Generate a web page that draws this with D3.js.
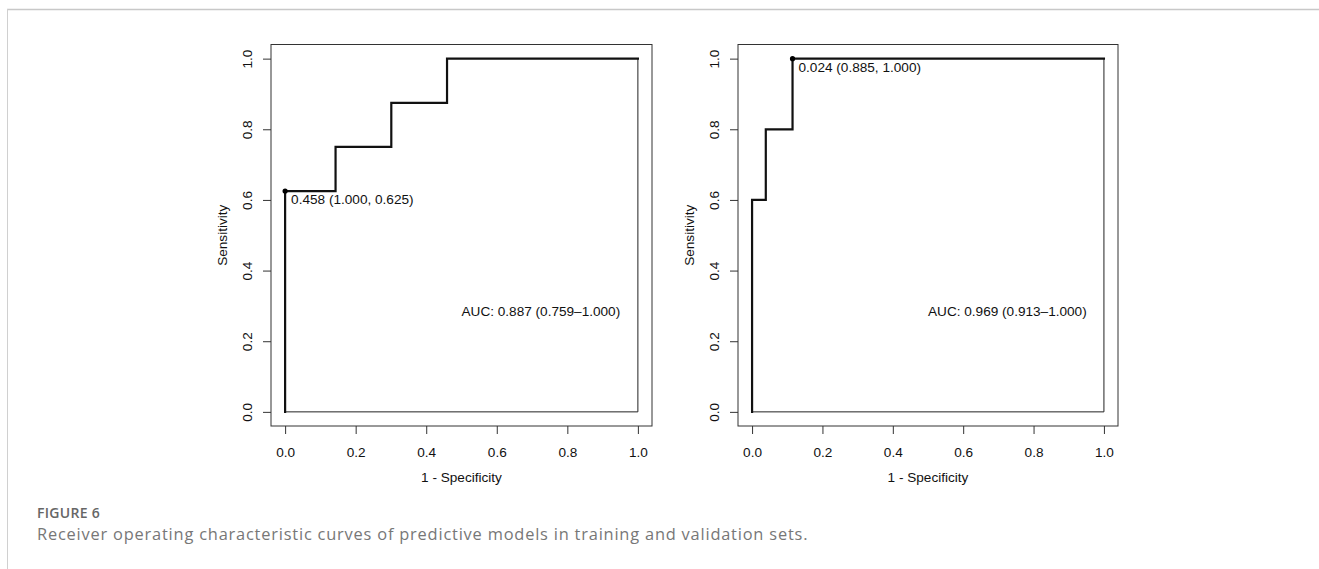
<!DOCTYPE html>
<html>
<head>
<meta charset="utf-8">
<script src="https://cdn.jsdelivr.net/npm/d3@7"></script>
<style>
  html, body { margin: 0; padding: 0; background: #fff; }
  svg { display: block; }
</style>
</head>
<body>
<svg id="chart" width="1319" height="569"></svg>
<script>
// ---- Data ----
const tickValues = [0, 0.2, 0.4, 0.6, 0.8, 1.0];
const xTitle = "1 - Specificity";
const yTitle = "Sensitivity";

// Training set ROC (x = 1 - specificity, y = sensitivity)
const trainFPR = [0, 0, 0.143, 0.143, 0.301, 0.301, 0.459, 0.459, 1.0];
const trainTPR = [0, 0.625, 0.625, 0.75, 0.75, 0.875, 0.875, 1.0, 1.0];
const trainBest = [0.0, 0.625];
const trainBestLabel = "0.458 (1.000, 0.625)";
const trainAUC = "AUC: 0.887 (0.759\u20131.000)";

// Validation set ROC
const validFPR = [0, 0, 0.039, 0.039, 0.115, 0.115, 1.0];
const validTPR = [0, 0.6, 0.6, 0.8, 0.8, 1.0, 1.0];
const validBest = [0.115, 1.0];
const validBestLabel = "0.024 (0.885, 1.000)";
const validAUC = "AUC: 0.969 (0.913\u20131.000)";

const captionTitle = "FIGURE 6";
const captionText = "Receiver operating characteristic curves of predictive models in training and validation sets.";

// ---- Drawing ----
const svg = d3.select("#chart");
const font = "'Liberation Sans', Arial, Helvetica, sans-serif";
const fs = 13.6;

// frame
svg.append("line").attr("x1", 7).attr("x2", 1319).attr("y1", 9.5).attr("y2", 9.5)
  .attr("stroke", "#c8c8c8").attr("stroke-width", 1.5);
svg.append("line").attr("x1", 7.5).attr("x2", 7.5).attr("y1", 9).attr("y2", 569)
  .attr("stroke", "#d0d0d0").attr("stroke-width", 1);

const panels = [
  { left: 271, right: 652, fpr: trainFPR, tpr: trainTPR, best: trainBest, bestLabel: trainBestLabel, auc: trainAUC },
  { left: 738, right: 1118, fpr: validFPR, tpr: validTPR, best: validBest, bestLabel: validBestLabel, auc: validAUC }
];
const boxTop = 44.5, boxBottom = 426;

panels.forEach(p => {
  const x = d3.scaleLinear().domain([-0.04, 1.04]).range([p.left, p.right]);
  const y = d3.scaleLinear().domain([-0.04, 1.04]).range([boxBottom, boxTop]);
  const g = svg.append("g");

  // box
  g.append("rect").attr("x", p.left).attr("y", boxTop)
    .attr("width", p.right - p.left).attr("height", boxBottom - boxTop)
    .attr("fill", "none").attr("stroke", "#333").attr("stroke-width", 1);

  // x axis
  const xAxis = g.append("g").attr("transform", `translate(0,${boxBottom})`)
    .call(d3.axisBottom(x).tickValues(tickValues).tickSize(8).tickPadding(8).tickFormat(d3.format(".1f")));
  xAxis.select(".domain").remove();
  xAxis.selectAll(".tick line").attr("stroke", "#333");
  xAxis.selectAll(".tick text").attr("font-family", font).attr("font-size", fs).attr("fill", "#111")
    .attr("y", 26).attr("dy", null).attr("dominant-baseline", "central");

  // y axis
  const yAxis = g.append("g").attr("transform", `translate(${p.left},0)`)
    .call(d3.axisLeft(y).tickValues(tickValues).tickSize(8).tickFormat(d3.format(".1f")));
  yAxis.select(".domain").remove();
  yAxis.selectAll(".tick line").attr("stroke", "#333");
  yAxis.selectAll(".tick text")
    .attr("font-family", font).attr("font-size", fs).attr("fill", "#111")
    .attr("x", null).attr("dy", null)
    .attr("text-anchor", "middle")
    .attr("dominant-baseline", "central")
    .attr("transform", "translate(-24,0) rotate(-90)");

  // axis titles
  g.append("text").attr("x", (p.left + p.right) / 2).attr("y", 477)
    .attr("text-anchor", "middle").attr("dominant-baseline", "central")
    .attr("font-family", font).attr("font-size", fs).attr("fill", "#111").text(xTitle);
  g.append("text")
    .attr("transform", `translate(${p.left - 49},${(boxTop + boxBottom) / 2}) rotate(-90)`)
    .attr("text-anchor", "middle").attr("dominant-baseline", "central")
    .attr("font-family", font).attr("font-size", fs).attr("fill", "#111").text(yTitle);

  // thin reference lines (right and bottom edges of ROC space)
  g.append("path")
    .attr("d", d3.line()([[x(1), y(1)], [x(1), y(0)], [x(0), y(0)]]))
    .attr("fill", "none").attr("stroke", "#222").attr("stroke-width", 1);

  // ROC curve
  const pts = p.fpr.map((v, i) => [v, p.tpr[i]]);
  g.append("path")
    .attr("d", d3.line().x(d => x(d[0])).y(d => y(d[1]))(pts))
    .attr("fill", "none").attr("stroke", "#111").attr("stroke-width", 2.2)
    .attr("stroke-linejoin", "miter").attr("stroke-linecap", "square");

  // best threshold point
  g.append("circle").attr("cx", x(p.best[0])).attr("cy", y(p.best[1])).attr("r", 2.6).attr("fill", "#000");
  g.append("text").attr("x", x(p.best[0]) + 6).attr("y", y(p.best[1]) + 8.5)
    .attr("dominant-baseline", "central")
    .attr("font-family", font).attr("font-size", fs).attr("fill", "#111").text(p.bestLabel);

  // AUC label
  g.append("text").attr("x", x(0.5)).attr("y", y(0.285))
    .attr("dominant-baseline", "central")
    .attr("font-family", font).attr("font-size", fs).attr("fill", "#111").text(p.auc);
});

// caption
svg.append("text").attr("x", 37).attr("y", 512).attr("dominant-baseline", "central")
  .attr("font-family", "'Open Sans', sans-serif").attr("font-weight", 600)
  .attr("font-size", 14).attr("letter-spacing", 0.3).attr("fill", "#666").text(captionTitle);
svg.append("text").attr("x", 37).attr("y", 533).attr("dominant-baseline", "central")
  .attr("font-family", "'Open Sans', sans-serif").attr("font-weight", 400)
  .attr("font-size", 16.4).attr("letter-spacing", 0.8).attr("fill", "#777").text(captionText);
</script>
</body>
</html>
